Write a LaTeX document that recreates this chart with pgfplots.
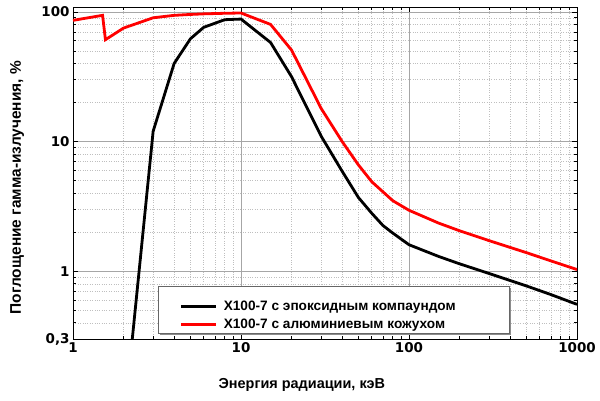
\documentclass[border=0pt]{standalone}
\usepackage{pgfplots}
\pgfplotsset{compat=1.18}
\usepackage{fontspec}
\setmainfont{Liberation Sans}
\newfontfamily\tickfont{DejaVu Sans}
\usetikzlibrary{shadows}

\begin{document}
\begin{tikzpicture}
\begin{axis}[
  scale only axis,
  width=504bp, height=332bp,
  xmode=log, ymode=log,
  xmin=1, xmax=1000, ymin=0.3, ymax=109,
  xtick={1,10,100,1000}, xticklabels={1,10,100,1000},
  ytick={0.3,1,10,100}, yticklabels={{0,3},1,10,100},
  minor xtick={2,3,4,5,6,7,8,9,20,30,40,50,60,70,80,90,200,300,400,500,600,700,800,900},
  minor ytick={0.4,0.5,0.6,0.7,0.8,0.9,2,3,4,5,6,7,8,9,20,30,40,50,60,70,80,90},
  grid=both,
  major grid style={black!35, line width=0.5bp},
  minor grid style={black!25, dotted, line width=0.5bp},
  tick align=inside,
  major tick length=5bp, minor tick length=3bp,
  tick style={black, line width=0.6bp},
  axis line style={line width=0.8bp},
  ticklabel style={font=\tickfont\bfseries\fontsize{13.5}{15}\selectfont},
  xlabel={Энергия радиации, кэВ},
  ylabel={Поглощение гамма-излучения, \%},
  xlabel style={at={(axis description cs:0.454,-0.138)}, anchor=center,
    font=\bfseries\fontsize{14.5}{16}\selectfont},
  ylabel style={at={(axis description cs:-0.111,0.456)}, anchor=center,
    font=\bfseries\fontsize{15.5}{17}\selectfont},
  legend style={draw=none, fill=none, at={(rel axis cs:0.206,0.127)}, anchor=north west,
    font=\bfseries\fontsize{13.7}{15}\selectfont, row sep=3bp,
    /tikz/every odd column/.append style={column sep=4bp}},
  legend cell align=left,
  legend image code/.code={\draw[#1] (0bp,0bp) -- (35bp,0bp);},
]
\coordinate (sw) at (rel axis cs:0,0);
\addplot[black, line width=2.8bp] coordinates {
  (2.2,0.22) (3,12) (4,40) (5,62) (6,76) (8,87) (10,88) (15,58) (20,31.6)
  (30,11) (40,5.9) (50,3.7) (60,2.8) (70,2.25) (80,1.97) (100,1.6)
  (150,1.3) (200,1.14) (300,0.96) (500,0.77) (700,0.66) (1000,0.555)
};
\addlegendentry{X100-7 с эпоксидным компаундом}
\addplot[red, line width=2.8bp] coordinates {
  (1,86) (1.5,94) (1.56,61) (2,75) (3,90) (4,94) (5,95.5) (6,96.5) (8,97.5)
  (10,98) (15,80) (20,50.7) (30,18) (40,10) (50,6.6) (60,4.9) (80,3.5)
  (100,2.95) (150,2.35) (200,2.05) (300,1.72) (500,1.39) (700,1.2) (1000,1.03)
};
\addlegendentry{X100-7 с алюминиевым кожухом}
\draw[draw=black!60, fill=white, line width=0.6bp,
  drop shadow={shadow xshift=2bp, shadow yshift=-2bp, fill=black!45, opacity=1}]
  (rel axis cs:0.169,0.018) rectangle (rel axis cs:0.865,0.16);
\end{axis}
\pgfresetboundingbox
\path[use as bounding box] (sw) ++(-73bp,-62bp) rectangle ++(600bp,401bp);
\end{tikzpicture}
\end{document}
